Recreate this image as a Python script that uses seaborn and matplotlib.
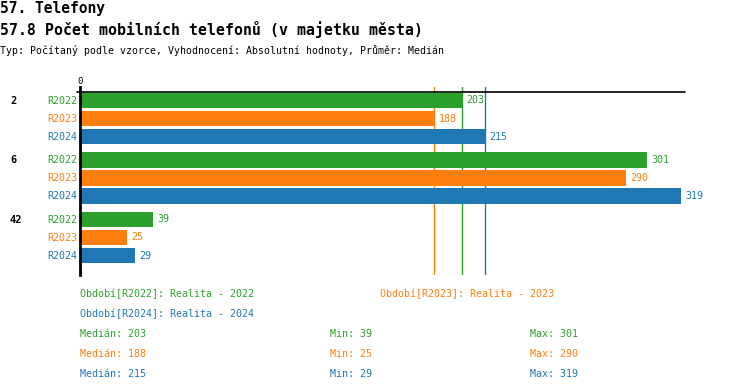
import matplotlib
matplotlib.use("Agg")
import matplotlib.pyplot as plt
import seaborn as sns
import pandas as pd

categories = ["2", "6", "42"]
periods = ["R2022", "R2023", "R2024"]
values_2022 = [203, 301, 39]
values_2023 = [188, 290, 25]
values_2024 = [215, 319, 29]
medians = [203, 188, 215]
mins = [39, 25, 29]
maxs = [301, 290, 319]
legend_labels = ["Období[R2022]: Realita - 2022", "Období[R2023]: Realita - 2023",
                 "Období[R2024]: Realita - 2024"]
title1 = "57. Telefony"
title2 = "57.8 Počet mobilních telefonů (v majetku města)"
subtitle = "Typ: Počítaný podle vzorce, Vyhodnocení: Absolutní hodnoty, Průměr: Medián"

colors = ["#2ca02c", "#ff7f0e", "#1f77b4"]

rows = []
for p, vals in zip(periods, [values_2022, values_2023, values_2024]):
    for c, v in zip(categories, vals):
        rows.append({"cat": c, "period": p, "value": v})
df = pd.DataFrame(rows)

sns.set_theme(style="white")
plt.rcParams['font.family'] = ['DejaVu Sans Mono', 'DejaVu Sans']
plt.rcParams['text.color'] = 'black'

W, H = 750, 392
fig = plt.figure(figsize=(W / 100, H / 100), dpi=100)

def fx(px):
    return px / W

def fy(py):
    return 1 - py / H

ax_left, ax_right, ax_top, ax_bot = 80, 685, 87, 275
ax = fig.add_axes([fx(ax_left), fy(ax_bot), fx(ax_right - ax_left), (ax_bot - ax_top) / H])

sns.barplot(data=df, y="cat", x="value", hue="period", order=categories,
            hue_order=periods, palette=colors, orient="h", width=0.908, gap=0.13,
            saturation=1, legend=False, linewidth=0, ax=ax, zorder=2)

# scale
ax.set_xlim(0, (ax_right - ax_left) / 1.884)
pitch = 59.5
centers = [118.5, 178, 238]
ax.set_ylim((ax_bot - centers[0]) / pitch, -(centers[0] - ax_top) / pitch)

for sp in ["top", "right", "bottom"]:
    ax.spines[sp].set_visible(False)
ax.spines["left"].set_color("black")
ax.spines["left"].set_linewidth(2)
ax.spines["left"].set_zorder(5)
ax.set_xticks([])
ax.set_yticks([])
ax.set_xlabel("")
ax.set_ylabel("")
ax.set_facecolor("white")

# top horizontal line
yline = -(centers[0] - 92) / pitch
ax.plot([-3 / 1.884, ax.get_xlim()[1]], [yline, yline], color="black", lw=1.2,
        clip_on=False, zorder=4)
ax.text(0, -(centers[0] - 81) / pitch, "0", ha="center", va="center", fontsize=6.5, color="black")

# median lines (behind bars)
for m, c in zip(medians, colors):
    ax.axvline(m, color=c, lw=1, zorder=1)

# value labels
for cont, c in zip(ax.containers, colors):
    ax.bar_label(cont, padding=3, color=c, fontsize=7.2)

# category / period labels
bar_offsets = [-18, 0, 18]
for i, cat in enumerate(categories):
    fig.text(fx(10), fy(centers[i] - 18), cat, ha="left", va="center",
             fontsize=7.5, fontweight="bold", color="black")
    for off, p, c in zip(bar_offsets, periods, colors):
        fig.text(fx(77), fy(centers[i] + off), p, ha="right", va="center",
                 fontsize=7.2, color=c)

# titles
fig.text(0, fy(8), title1, ha="left", va="center", fontsize=10.5, fontweight="bold", color="black")
fig.text(0, fy(29), title2, ha="left", va="center", fontsize=10.7, fontweight="bold", color="black")
fig.text(0, fy(50), subtitle, ha="left", va="center", fontsize=7.1, color="black")

# legend-like text
fig.text(fx(80), fy(294), legend_labels[0], color=colors[0], fontsize=7.2, va="center")
fig.text(fx(380), fy(294), legend_labels[1], color=colors[1], fontsize=7.2, va="center")
fig.text(fx(80), fy(314), legend_labels[2], color=colors[2], fontsize=7.2, va="center")
for i, c in enumerate(colors):
    y = fy(334 + 20 * i)
    fig.text(fx(80), y, f"Medián: {medians[i]}", color=c, fontsize=7.2, va="center")
    fig.text(fx(330), y, f"Min: {mins[i]}", color=c, fontsize=7.2, va="center")
    fig.text(fx(530), y, f"Max: {maxs[i]}", color=c, fontsize=7.2, va="center")

fig.savefig("out.png", dpi=100, facecolor="white")
